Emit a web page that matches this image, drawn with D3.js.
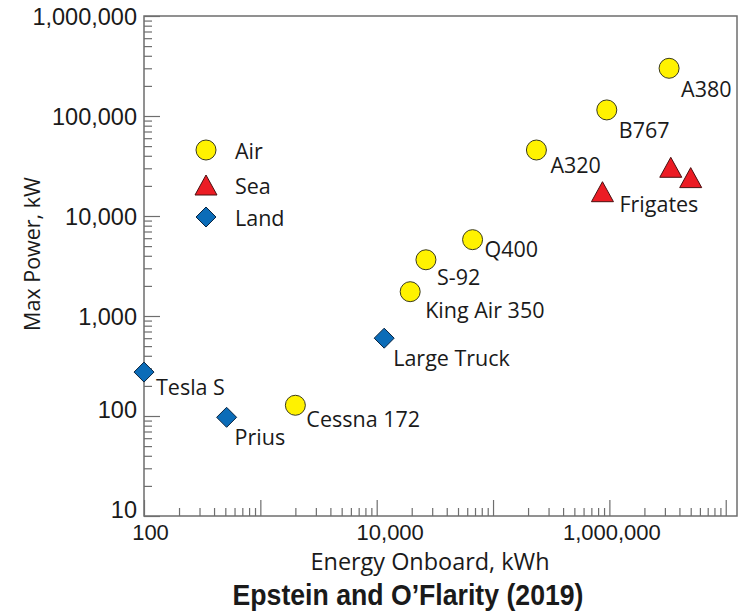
<!DOCTYPE html>
<html>
<head>
<meta charset="utf-8">
<script src="https://cdn.jsdelivr.net/npm/d3@7"></script>
<style>
  body { margin: 0; background: #fff; }
  svg text { fill: #1a1a1a; }
</style>
</head>
<body>
<div id="plot"></div>
<script>
// values (kWh, kW)
const airNames  = ["Cessna 172", "King Air 350", "S-92", "Q400", "A320", "B767", "A380"];
const airEnergy = [2000, 19400, 26500, 66700, 236000, 950000, 3260000];
const airPower  = [128, 1750, 3650, 5800, 45700, 115000, 300000];

const seaNames  = ["Frigates", "", ""];
const seaEnergy = [872000, 3370000, 5000000];
const seaPower  = [17500, 30700, 24200];

const landNames  = ["Tesla S", "Prius", "Large Truck"];
const landEnergy = [100, 513, 11600];
const landPower  = [275, 97, 600];

const yTickValues = [10, 100, 1000, 10000, 100000, 1000000];
const xTickLabels = [100, 10000, 1000000];
const legendItems = ["Air", "Sea", "Land"];

// label offsets from the marker centre
const labelPos = {
  "Cessna 172": [11, 13], "King Air 350": [15, 18], "S-92": [11, 17], "Q400": [12, 9],
  "A320": [14, 14], "B767": [12, 20], "A380": [12, 20], "Frigates": [17, 12],
  "Tesla S": [12, 14], "Prius": [8, 19], "Large Truck": [9, 19]
};
// the x tick labels are not quite centred on their ticks in the original
const xLabelShift = { 100: 6, 10000: 13, 1000000: 2 };

const W = 745, H = 612;
const plotLeft = 144, plotRight = 737, plotTop = 16, plotBottom = 516;
const axisColor = "#6e6e6e";
const fmt = d3.format(",");

var svg = d3.select("#plot").append("svg")
  .attr("width", W).attr("height", H);

var x = d3.scaleLog().domain([100, 1.25e7]).range([plotLeft, plotRight]);
var y = d3.scaleLog().domain([10, 1e6]).range([plotBottom, plotTop]);

function isDecade(v) {
  var l = Math.log10(v);
  return Math.abs(l - Math.round(l)) < 1e-9;
}

// frame
svg.append("rect")
  .attr("x", plotLeft).attr("y", plotTop)
  .attr("width", plotRight - plotLeft).attr("height", plotBottom - plotTop)
  .attr("fill", "none").attr("stroke", axisColor).attr("stroke-width", 1.5);

// x axis
var xAxis = svg.append("g")
  .attr("transform", "translate(0," + plotBottom + ")")
  .call(d3.axisBottom(x)
    .tickValues(x.ticks().filter(function(d) { return d < 1.25e7; }))
    .tickSize(-8)
    .tickSizeOuter(0)
    .tickPadding(8)
    .tickFormat(function(d) { return xTickLabels.indexOf(d) >= 0 ? fmt(d) : ""; }));
xAxis.select(".domain").remove();
xAxis.selectAll(".tick line")
  .attr("stroke", axisColor).attr("stroke-width", 1.2)
  .attr("y2", function(d) { return isDecade(d) ? -16 : -8; });
xAxis.selectAll(".tick text")
  .attr("font-family", "'Liberation Sans', Arial, sans-serif")
  .attr("font-size", 22)
  .attr("dx", function(d) { return xLabelShift[d] || 0; });

// y axis
var yAxis = svg.append("g")
  .attr("transform", "translate(" + plotLeft + ",0)")
  .call(d3.axisLeft(y)
    .tickValues(y.ticks())
    .tickSize(-8)
    .tickSizeOuter(0)
    .tickPadding(7)
    .tickFormat(function(d) { return yTickValues.indexOf(d) >= 0 ? fmt(d) : ""; }));
yAxis.select(".domain").remove();
yAxis.selectAll(".tick line")
  .attr("stroke", axisColor).attr("stroke-width", 1.2)
  .attr("x2", function(d) { return isDecade(d) ? 16 : 8; });
yAxis.selectAll(".tick text")
  .attr("font-family", "'Liberation Sans', Arial, sans-serif")
  .attr("font-size", 23.5)
  .attr("dy", function(d) { return d <= 100 ? "0.05em" : "0.36em"; });

// axis titles
svg.append("text")
  .attr("x", 430).attr("y", 570)
  .attr("text-anchor", "middle")
  .attr("font-family", "'Open Sans', sans-serif").attr("font-size", 23)
  .attr("textLength", 239).attr("lengthAdjust", "spacingAndGlyphs")
  .text("Energy Onboard, kWh");

svg.append("text")
  .attr("transform", "translate(40," + 254 + ") rotate(-90)")
  .attr("text-anchor", "middle")
  .attr("font-family", "'Open Sans', sans-serif").attr("font-size", 21.5)
  .text("Max Power, kW");

svg.append("text")
  .attr("x", 408).attr("y", 605)
  .attr("text-anchor", "middle")
  .attr("font-family", "'Liberation Sans', Arial, sans-serif")
  .attr("font-weight", "bold").attr("font-size", 30)
  .attr("textLength", 351).attr("lengthAdjust", "spacingAndGlyphs")
  .text("Epstein and O\u2019Flarity (2019)");

// markers
function triangle(cx, cy) {
  return "M" + cx + "," + (cy - 10) + "L" + (cx + 11) + "," + (cy + 10) + "L" + (cx - 11) + "," + (cy + 10) + "Z";
}
function diamond(cx, cy) {
  return "M" + cx + "," + (cy - 10) + "L" + (cx + 10) + "," + cy + "L" + cx + "," + (cy + 10) + "L" + (cx - 10) + "," + cy + "Z";
}

var pts = [];
airNames.forEach(function(n, i) { pts.push({ name: n, group: "Air", e: airEnergy[i], p: airPower[i] }); });
seaNames.forEach(function(n, i) { pts.push({ name: n, group: "Sea", e: seaEnergy[i], p: seaPower[i] }); });
landNames.forEach(function(n, i) { pts.push({ name: n, group: "Land", e: landEnergy[i], p: landPower[i] }); });

var style = {
  Air:  { fill: "#fff200", stroke: "#3a3a1a" },
  Sea:  { fill: "#ec1c24", stroke: "#4a1010" },
  Land: { fill: "#0b6cb8", stroke: "#0a2440" }
};

function drawMarker(g, group, cx, cy) {
  var s = style[group];
  if (group === "Air") {
    g.append("circle").attr("cx", cx).attr("cy", cy).attr("r", 10)
      .attr("fill", s.fill).attr("stroke", s.stroke).attr("stroke-width", 1);
  } else {
    g.append("path").attr("d", group === "Sea" ? triangle(cx, cy) : diamond(cx, cy))
      .attr("fill", s.fill).attr("stroke", s.stroke).attr("stroke-width", 1);
  }
}

var marks = svg.append("g");
pts.forEach(function(d) { drawMarker(marks, d.group, x(d.e), y(d.p)); });

marks.selectAll("text.lbl")
  .data(pts.filter(function(d) { return d.name !== ""; }))
  .enter().append("text")
  .attr("class", "lbl")
  .attr("x", function(d) { return x(d.e) + labelPos[d.name][0]; })
  .attr("y", function(d) { return y(d.p) + labelPos[d.name][1]; })
  .attr("dominant-baseline", "central")
  .attr("font-family", "'Open Sans', sans-serif").attr("font-size", 21.5)
  .text(function(d) { return d.name; });

// legend
var legend = svg.append("g").attr("transform", "translate(206,150)");
legendItems.forEach(function(n, i) {
  var cy = [0, 35, 67][i];
  drawMarker(legend, n, 0, cy);
  legend.append("text")
    .attr("x", 29).attr("y", cy)
    .attr("dominant-baseline", "central")
    .attr("font-family", "'Open Sans', sans-serif").attr("font-size", 21.5)
    .text(n);
});
</script>
</body>
</html>
